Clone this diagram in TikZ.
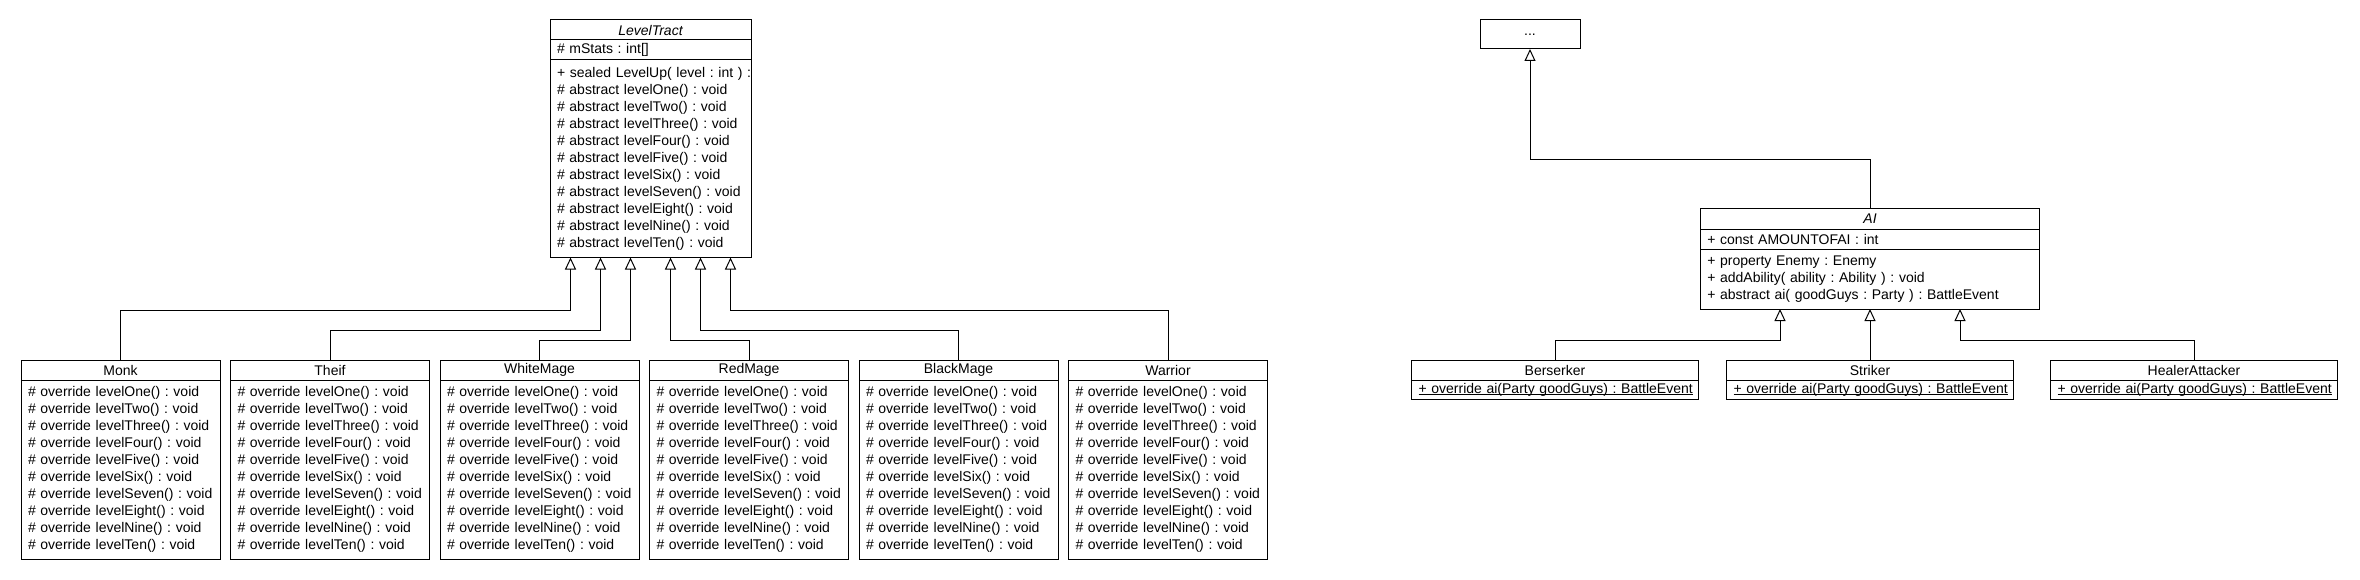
\documentclass[tikz,border=0pt]{standalone}
\usepackage{fontspec}
\setmainfont{Liberation Sans}
\usetikzlibrary{positioning,arrows.meta,calc}
\definecolor{uLine}{HTML}{000000}
\frenchspacing
\tikzset{
  cls/.style={draw=uLine, line width=1pt, fill=white, outer sep=0pt,
              inner sep=0pt, font=\fontsize{14}{17}\selectfont},
  % class name compartment: one centred line
  cname/.style={cls, anchor=north, minimum width=#1, minimum height=20pt},
  % attribute / operation compartments: left aligned, 7pt indent
  cbody/.style={cls, anchor=north, align=left, text width=#1, inner xsep=7pt},
  isa/.style={-{Triangle[open, length=12pt, width=11pt]}, line width=1pt},
}
\newcommand{\abst}[1]{{\itshape #1}}
\newsavebox{\ulbox}
\newcommand{\stat}[1]{\sbox{\ulbox}{#1}\rlap{\rule[-1.5pt]{\wd\ulbox}{1pt}}\usebox{\ulbox}}
\newcommand{\overrides}{%
  \mbox{\# override levelOne() : void}\\ \mbox{\# override levelTwo() : void}\\
  \mbox{\# override levelThree() : void}\\ \mbox{\# override levelFour() : void}\\
  \mbox{\# override levelFive() : void}\\ \mbox{\# override levelSix() : void}\\
  \mbox{\# override levelSeven() : void}\\ \mbox{\# override levelEight() : void}\\
  \mbox{\# override levelNine() : void}\\ \mbox{\# override levelTen() : void}}

\begin{document}
\begin{tikzpicture}[x=1pt, y=1pt]

\useasboundingbox[fill=white] (0,0) rectangle (2360,-580);

\def\W{209.5}   % column pitch of the six job classes (boxes 199 wide)

%% ── abstract base of the jobs ─────────────────────────────────────────────
\node[cname=201pt] (lt) at (650.5,-20) {\abst{LevelTract}};
\node[cbody=187pt, minimum height=20pt, below=0pt of lt] (ltAttr) {\# mStats : int[]};
\node[cbody=187pt, minimum height=197.5pt, below=0pt of ltAttr] (ltOps)
  {\mbox{+ sealed LevelUp( level : int ) :}\\ \# abstract levelOne() : void\\
   \# abstract levelTwo() : void\\ \# abstract levelThree() : void\\
   \# abstract levelFour() : void\\ \# abstract levelFive() : void\\
   \# abstract levelSix() : void\\ \# abstract levelSeven() : void\\
   \# abstract levelEight() : void\\ \# abstract levelNine() : void\\
   \# abstract levelTen() : void};

%% ── the six jobs, left to right ───────────────────────────────────────────
\node[cname=199pt] (monk)    at (120.5,-360)       {Monk};
\node[cname=199pt] (theif)   at (120.5+\W,-360)    {Theif};
\node[cname=199pt] (white)   at (120.5+2*\W,-360)  {WhiteMage};
\node[cname=199pt] (red)     at (120.5+3*\W,-360)  {RedMage};
\node[cname=199pt] (black)   at (120.5+4*\W,-360)  {BlackMage};
\node[cname=199pt] (warrior) at (120.5+5*\W,-360)  {Warrior};
\node[cbody=185pt, minimum height=179pt, below=0pt of monk]    (monkOps)    {\overrides};
\node[cbody=185pt, minimum height=179pt, below=0pt of theif]   (theifOps)   {\overrides};
\node[cbody=185pt, minimum height=179pt, below=0pt of white]   (whiteOps)   {\overrides};
\node[cbody=185pt, minimum height=179pt, below=0pt of red]     (redOps)     {\overrides};
\node[cbody=185pt, minimum height=179pt, below=0pt of black]   (blackOps)   {\overrides};
\node[cbody=185pt, minimum height=179pt, below=0pt of warrior] (warriorOps) {\overrides};

%% ── generalisations: nested levels, outer pair highest ────────────────────
\draw[isa] (monk.north)    -- ++(0,50) -| ($(ltOps.south)+(-80,0)$);
\draw[isa] (theif.north)   -- ++(0,30) -| ($(ltOps.south)+(-50,0)$);
\draw[isa] (white.north)   -- ++(0,20) -| ($(ltOps.south)+(-20,0)$);
\draw[isa] (red.north)     -- ++(0,20) -| ($(ltOps.south)+(20,0)$);
\draw[isa] (black.north)   -- ++(0,30) -| ($(ltOps.south)+(50,0)$);
\draw[isa] (warrior.north) -- ++(0,50) -| ($(ltOps.south)+(80,0)$);

%% ── enemy AI, right half ──────────────────────────────────────────────────
\node[cname=100pt, minimum height=29pt] (etc) at (1530,-20) {...};
\node[cname=339.5pt] (ai) at (1870,-209) {\abst{AI}};
\node[cbody=325.5pt, minimum height=20pt, below=0pt of ai] (aiAttr) {+ const AMOUNTOFAI : int};
\node[cbody=325.5pt, minimum height=60pt, below=0pt of aiAttr] (aiOps)
  {+ property Enemy : Enemy\\ + addAbility( ability : Ability ) : void\\
   + abstract ai( goodGuys : Party ) : BattleEvent};

\node[cname=287pt] (bers) at (1555,-360) {Berserker};
\node[cname=287pt] (stri) at (1870,-360) {Striker};
\node[cname=287pt] (heal) at (2194,-360) {HealerAttacker};
\node[cbody=273pt, minimum height=19pt, below=0pt of bers] (bersOps)
  {\stat{+ override ai(Party goodGuys) : BattleEvent}};
\node[cbody=273pt, minimum height=19pt, below=0pt of stri] (striOps)
  {\stat{+ override ai(Party goodGuys) : BattleEvent}};
\node[cbody=273pt, minimum height=19pt, below=0pt of heal] (healOps)
  {\stat{+ override ai(Party goodGuys) : BattleEvent}};

\draw[isa] (ai.north)   -- ++(0,49) -| (etc.south);
\draw[isa] (bers.north) -- ++(0,20) -| ($(aiOps.south)+(-90,0)$);
\draw[isa] (stri.north) -- (aiOps.south);
\draw[isa] (heal.north) -- ++(0,20) -| ($(aiOps.south)+(90,0)$);

\end{tikzpicture}
\end{document}
